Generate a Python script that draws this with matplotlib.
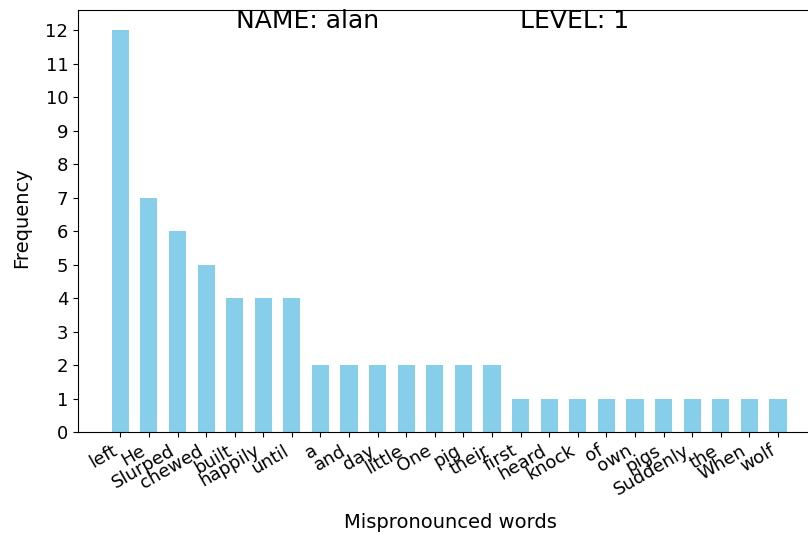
import matplotlib
matplotlib.use("Agg")
import matplotlib.pyplot as plt

words = ["left", "He", "Slurped", "chewed", "built", "happily", "until",
         "a", "and", "day", "little", "One", "pig", "their",
         "first", "heard", "knock", "of", "own", "pigs", "Suddenly", "the", "When", "wolf"]
freq = [12, 7, 6, 5, 4, 4, 4, 2, 2, 2, 2, 2, 2, 2, 1, 1, 1, 1, 1, 1, 1, 1, 1, 1]
name = "alan"
level = 1

W, H = 808, 535
fig = plt.figure(figsize=(W / 100, H / 100), dpi=100)
ax_l, ax_t, ax_b = 78, 10, 432
ax = fig.add_axes([ax_l / W, (H - ax_b) / H, (W - ax_l) / W, (ax_b - ax_t) / H])
aw, ah = W - ax_l, ax_b - ax_t

x = list(range(len(words)))
ax.bar(x, freq, width=0.6, color="skyblue")
ax.set_xticks(x)
ax.set_xticklabels(words, rotation=30, ha="right", fontsize=13)
ax.set_yticks(range(0, 13))
ax.tick_params(axis="y", labelsize=13)
ax.set_xlim(-1.48, 24.05)
ax.set_ylim(0, 12.6)
ax.spines["right"].set_visible(False)
ax.set_xlabel("Mispronounced words", fontsize=14)
ax.set_ylabel("Frequency", fontsize=14)
ax.xaxis.set_label_coords((450 - ax_l) / aw, (ax_b - 513) / ah)
ax.yaxis.set_label_coords((31 - ax_l) / aw, (ax_b - 218) / ah)

fig.text(236 / W, 1 - 21 / H, f"NAME: {name}", fontsize=18, va="center", ha="left")
fig.text(520 / W, 1 - 21 / H, f"LEVEL: {level}", fontsize=18, va="center", ha="left")

fig.savefig("out.png", dpi=100)
